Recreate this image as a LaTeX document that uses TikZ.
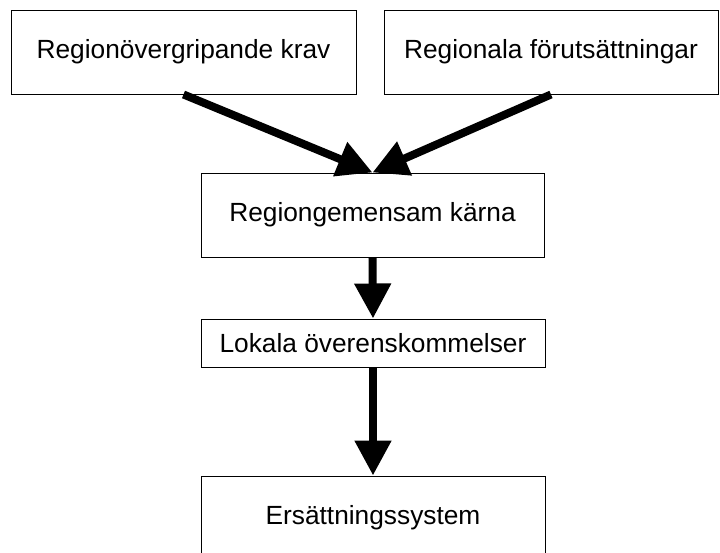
\documentclass[tikz,border=0pt]{standalone}
\usepackage{fontspec}
\setmainfont{Liberation Sans}
\usetikzlibrary{arrows.meta}

\begin{document}
\begin{tikzpicture}[
  box/.style={draw, line width=0.7pt, minimum height=2.1cm, inner sep=0pt,
    font=\fontsize{18.7}{22}\selectfont},
  flow/.style={-{Triangle[length=0.875cm, width=0.875cm]}, line width=5.7pt}]
  \useasboundingbox (0,0) rectangle (18,13.825);

  \node[box, minimum width=8.625cm] (krav) at (4.5875,12.525) {Regionövergripande krav};
  \node[box, minimum width=8.35cm] (forut) at (13.775,12.525) {Regionala förutsättningar};

  \node[box, minimum width=8.575cm] (karna) at (9.3125,8.45) {Regiongemensam kärna};
  \node[box, minimum width=8.6cm, minimum height=1.2cm] (lokala) at (9.325,5.25) {Lokala överenskommelser};
  \node[box, minimum width=8.6cm] (ersatt) at (9.325,0.875) {Ersättningssystem};

  \draw[flow] (krav.south) -- (karna.north);
  \draw[flow] (forut.south) -- (karna.north);
  \draw[flow] (karna.south) -- (lokala.north);
  \draw[flow] (lokala.south) -- (ersatt.north);
\end{tikzpicture}
\end{document}
